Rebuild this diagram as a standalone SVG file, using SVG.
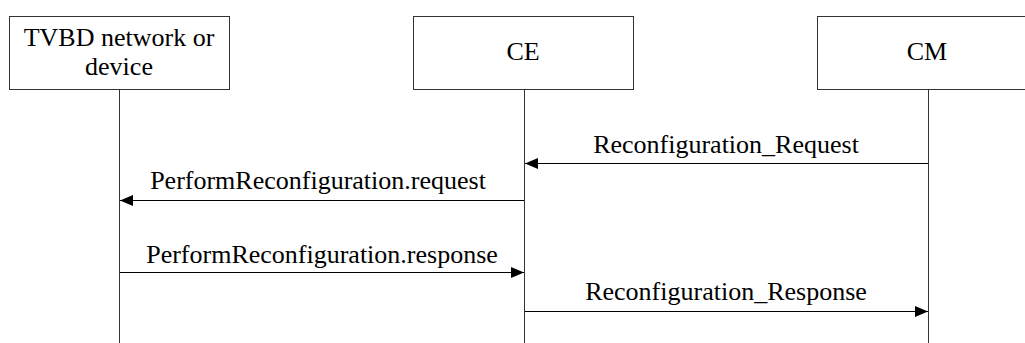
<svg xmlns="http://www.w3.org/2000/svg" width="1025" height="343" viewBox="0 0 1025 343">
<style>
.box{fill:#fff;stroke:#333;stroke-width:1}
.life{stroke:#333;stroke-width:1;fill:none}
.msg{stroke:#000;stroke-width:1;fill:none;marker-end:url(#ah)}
.t{font-family:'Liberation Serif','Times New Roman',Times,serif;font-size:26px;fill:#000;text-anchor:middle}
</style>
<defs>
<marker id="ah" markerWidth="14" markerHeight="11" refX="13" refY="5.5" orient="auto" markerUnits="userSpaceOnUse">
<path d="M0,0 L13,5.5 L0,11 Z" fill="#000"/>
</marker>
</defs>
<rect width="1025" height="343" fill="#fff"/>
<g id="node-tvbd">
<rect class="box" x="9.5" y="16.5" width="220" height="73"/>
<text class="t" x="119" y="46" font-family="Liberation Serif, serif">TVBD network or</text>
<text class="t" x="119" y="75" font-family="Liberation Serif, serif">device</text>
</g>
<g id="node-ce">
<rect class="box" x="413.5" y="16.5" width="220" height="73"/>
<text class="t" x="523" y="60" font-family="Liberation Serif, serif">CE</text>
</g>
<g id="node-cm">
<rect class="box" x="817.5" y="16.5" width="220" height="73"/>
<text class="t" x="927" y="60" font-family="Liberation Serif, serif">CM</text>
</g>
<g id="connectors">
<line class="life" x1="119.5" y1="89.5" x2="119.5" y2="343"/>
<line class="life" x1="524.5" y1="89.5" x2="524.5" y2="343"/>
<line class="life" x1="928.5" y1="89.5" x2="928.5" y2="343"/>
<line class="msg" x1="928" y1="163.5" x2="525" y2="163.5"/>
<text class="t" x="726" y="153" font-family="Liberation Serif, serif">Reconfiguration_Request</text>
<line class="msg" x1="524" y1="200.5" x2="120" y2="200.5"/>
<text class="t" x="318" y="189" font-family="Liberation Serif, serif">PerformReconfiguration.request</text>
<line class="msg" x1="120" y1="272.5" x2="524" y2="272.5"/>
<text class="t" x="322" y="263" font-family="Liberation Serif, serif">PerformReconfiguration.response</text>
<line class="msg" x1="525" y1="311.5" x2="928" y2="311.5"/>
<text class="t" x="726" y="300" font-family="Liberation Serif, serif">Reconfiguration_Response</text>
</g>
</svg>
